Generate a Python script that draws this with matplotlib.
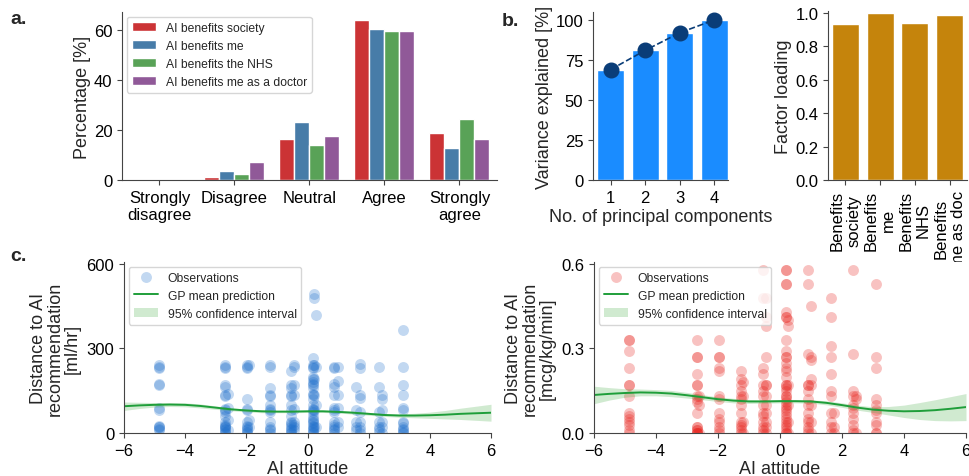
import numpy as np
import matplotlib
matplotlib.use("Agg")
import matplotlib.pyplot as plt
import seaborn as sns

sns.set_style("ticks")
plt.rcParams['font.family'] = ['Liberation Sans', 'DejaVu Sans']
plt.rcParams['axes.edgecolor'] = '#444444'
plt.rcParams['xtick.color'] = '#444444'
plt.rcParams['ytick.color'] = '#444444'
plt.rcParams['xtick.labelcolor'] = 'black'
plt.rcParams['ytick.labelcolor'] = 'black'

# ---------------- data ----------------
likert_cats = ["Strongly\ndisagree", "Disagree", "Neutral", "Agree", "Strongly\nagree"]
series_names = ["AI benefits society", "AI benefits me", "AI benefits the NHS", "AI benefits me as a doctor"]
pct_society = [0, 1.0, 16.3, 64.0, 18.6]
pct_me = [0, 3.5, 23.3, 60.4, 12.6]
pct_nhs = [0, 2.3, 14.0, 59.3, 24.4]
pct_doctor = [0, 7.0, 17.5, 59.3, 16.2]

pcs = [1, 2, 3, 4]
var_explained = [69, 81, 92, 100]

loading_labels = ["Benefits\nsociety", "Benefits\nme", "Benefits\nNHS", "Benefits\nme as doc"]
loadings = [0.93, 1.0, 0.94, 0.985]

gp_x = [-6, -5.5, -5, -4.5, -4, -3.5, -3, -2.5, -2, -1.5, -1, -0.5, 0,
        0.5, 1, 1.5, 2, 2.5, 3, 3.5, 4, 4.5, 5, 5.5, 6]
gp1_mean = [95, 98, 100, 101, 100, 96, 90, 84, 80, 77, 76, 76, 77,
            77, 75, 72, 68, 64, 62, 62, 63, 65, 68, 70, 72]
gp1_half = [15, 11, 8, 7, 7, 7, 6, 5, 5, 5, 4, 4, 4,
            4, 4, 5, 5, 5, 6, 8, 11, 15, 20, 25, 30]
gp2_mean = [.135, .139, .142, .144, .143, .140, .134, .127, .120, .115, .112, .112, .113,
            .113, .112, .107, .099, .090, .083, .079, .077, .078, .081, .086, .092]
gp2_half = [.031, .022, .015, .012, .011, .011, .010, .009, .008, .008, .007, .006, .006,
            .006, .006, .007, .008, .009, .010, .015, .022, .030, .037, .043, .048]

# observations (ml/hr), grouped by attitude column
obs1 = {
    -4.86: [235, 230, 240, 175, 170, 90, 80, 25, 20, 15, 10, 20],
    -2.70: [240, 235, 230, 170, 165, 135, 130, 85, 80, 75, 60, 40, 30, 20, 15, 10, 5, 0, 20, 25],
    -2.60: [140, 90, 45, 10],
    -1.97: [235, 240, 230, 120, 80, 85, 40, 20, 15, 10, 5, 0, 25],
    -1.90: [240, 45, 20],
    -1.21: [240, 235, 160, 135, 130, 100, 80, 85, 75, 40, 20, 15, 10, 0],
    -0.55: [220, 170, 160, 135, 130, 100, 80, 60, 40, 35, 30, 20, 15, 10, 5, 0],
    -0.45: [240, 235, 170, 135, 85, 40, 30, 20, 10],
    0.17: [265, 240, 235, 230, 200, 190, 180, 175, 170, 160, 140, 135, 120, 100, 85, 80, 75,
           60, 45, 40, 35, 20, 15, 10, 5, 0, 25, 50],
    0.20: [495, 480, 240, 190, 135, 80, 20],
    0.27: [420, 235, 100, 20],
    0.88: [235, 230, 175, 165, 135, 90, 80, 75, 40, 30, 20, 15, 10, 0],
    1.00: [235, 185, 135, 90, 40, 20],
    1.60: [165, 80, 40, 20, 10],
    1.72: [245, 230, 135, 125, 75, 40, 20, 10, 0],
    2.33: [235, 165, 75, 40, 20, 15, 5],
    2.45: [135, 120, 80, 40, 20, 0],
    3.12: [365, 235, 170, 135, 90, 80, 40, 35, 20, 15, 10, 5, 0],
}
# observations (mcg/kg/min)
obs2 = {
    -4.87: [0.33, 0.33, 0.29, 0.23, 0.17, 0.17, 0.13, 0.07, 0.06, 0.05, 0.04, 0.03, 0.01, 0.0],
    -2.69: [0.33, 0.27, 0.27, 0.21, 0.17, 0.17, 0.13, 0.12, 0.11, 0.07, 0.02, 0.02, 0.01, 0.01, 0.0, 0.0, 0.0],
    -2.60: [0.13, 0.10, 0.0],
    -1.96: [0.33, 0.27, 0.27, 0.23, 0.22, 0.13, 0.12, 0.07, 0.05, 0.04, 0.02, 0.01, 0.0],
    -1.27: [0.22, 0.19, 0.17, 0.15, 0.13, 0.12, 0.10, 0.07, 0.04, 0.03, 0.02, 0.01, 0.0],
    -1.20: [0.18, 0.13, 0.04, 0.0],
    -0.56: [0.58, 0.48, 0.23, 0.21, 0.17, 0.15, 0.13, 0.10, 0.07, 0.06, 0.04, 0.02, 0.01, 0.0],
    -0.45: [0.48, 0.38, 0.41, 0.27, 0.17, 0.17, 0.13, 0.10, 0.07, 0.04, 0.02, 0.0],
    0.19: [0.58, 0.58, 0.53, 0.53, 0.43, 0.41, 0.41, 0.33, 0.29, 0.27, 0.27, 0.25, 0.23, 0.22, 0.20,
           0.17, 0.17, 0.16, 0.15, 0.13, 0.13, 0.12, 0.11, 0.10, 0.09, 0.08, 0.07, 0.06, 0.05,
           0.04, 0.03, 0.02, 0.01, 0.0, 0.0],
    0.27: [0.38, 0.40, 0.17, 0.10, 0.04, 0.0],
    0.91: [0.58, 0.53, 0.28, 0.17, 0.17, 0.15, 0.12, 0.10, 0.07, 0.05, 0.04, 0.02, 0.01, 0.0],
    1.00: [0.45, 0.27, 0.26, 0.19, 0.17, 0.10, 0.04, 0.0],
    1.66: [0.48, 0.41, 0.31, 0.27, 0.21, 0.15, 0.13, 0.07, 0.04, 0.02, 0.0],
    1.75: [0.07, 0.02, 0.0],
    2.34: [0.58, 0.28, 0.15, 0.13, 0.10, 0.09, 0.07, 0.05, 0.03, 0.01, 0.0],
    2.45: [0.13, 0.12, 0.0],
    3.09: [0.53, 0.27, 0.23, 0.12, 0.10, 0.08, 0.07, 0.04, 0.03, 0.0, 0.0],
}

# ---------------- figure ----------------
W, H = 970, 477
fig = plt.figure(figsize=(W / 100, H / 100), dpi=100)


def ax_px(l, t, r, b):
    return fig.add_axes([l / W, 1 - b / H, (r - l) / W, (b - t) / H])


TICK = 12
LAB = 13

# Panel a
axa = ax_px(122, 13, 497, 181)
set1 = sns.color_palette("Set1", 4)
cols = [sns.desaturate(c, 0.75) for c in set1]
xs = np.arange(len(likert_cats))
w = 0.2
for i, (vals, name) in enumerate(zip([pct_society, pct_me, pct_nhs, pct_doctor], series_names)):
    axa.bar(xs + (i - 1.5) * w, vals, width=w, color=cols[i], label=name)
axa.set_xlim(-0.5, 4.5)
axa.set_ylim(0, 67)
axa.set_yticks([0, 20, 40, 60])
axa.set_xticks(xs)
axa.set_xticklabels(likert_cats)
axa.set_ylabel("Percentage [%]", fontsize=LAB, labelpad=2)
axa.tick_params(labelsize=TICK)
axa.legend(loc="upper left", fontsize=8.7, frameon=True, borderaxespad=0.4)
sns.despine(ax=axa)

# Panel b left
axb = ax_px(593, 13, 728, 181)
axb.bar(pcs, var_explained, width=0.78, color="#1a8cff")
axb.plot(pcs, var_explained, "--o", color="#0a3d78", markersize=10.5, linewidth=1.2)
axb.set_xlim(0.49, 4.4)
axb.set_ylim(0, 105)
axb.set_yticks([0, 25, 50, 75, 100])
axb.set_xticks(pcs)
axb.set_xlabel("No. of principal components", fontsize=LAB, labelpad=2)
axb.set_ylabel("Variance explained [%]", fontsize=LAB, labelpad=2)
axb.tick_params(labelsize=TICK)
sns.despine(ax=axb)

# Panel b right
axf = ax_px(828, 12, 967, 181)
axf.bar(np.arange(4), loadings, width=0.78, color="#c5840c")
axf.set_xlim(-0.5, 3.5)
axf.set_ylim(0, 1.01)
axf.set_yticks([0, 0.2, 0.4, 0.6, 0.8, 1.0])
axf.set_xticks(np.arange(4))
axf.set_xticklabels(loading_labels, rotation=90)
axf.set_ylabel("Factor loading", fontsize=LAB, labelpad=2)
axf.tick_params(labelsize=TICK)
sns.despine(ax=axf)


def scatter_panel(ax, obs, mean, half, color, ylim, yticks, ylabel):
    ox = [x for x, ys in obs.items() for _ in ys]
    oy = [y for ys in obs.values() for y in ys]
    ax.scatter(ox, oy, s=62, color=color, alpha=0.27, linewidths=0, label="Observations")
    m = np.array(mean)
    h = np.array(half)
    ax.plot(gp_x, m, color="#1f9e3a", linewidth=1.4, label="GP mean prediction")
    ax.fill_between(gp_x, m - h, m + h, color="#2ca02c", alpha=0.22, linewidth=0,
                    label="95% confidence interval")
    ax.set_xlim(-6, 6)
    ax.set_ylim(*ylim)
    ax.set_xticks([-6, -4, -2, 0, 2, 4, 6])
    ax.set_xticklabels(["\u22126", "\u22124", "\u22122", "0", "2", "4", "6"])
    ax.set_yticks(yticks)
    ax.set_xlabel("AI attitude", fontsize=LAB, labelpad=2)
    ax.set_ylabel(ylabel, fontsize=LAB, labelpad=4, linespacing=1.0)
    ax.tick_params(labelsize=TICK)
    ax.legend(loc="upper left", fontsize=8.7, frameon=True, borderaxespad=0.4)
    sns.despine(ax=ax)


axc1 = ax_px(124, 263, 491, 434)
scatter_panel(axc1, obs1, gp1_mean, gp1_half, "#1f6fcc", (0, 607), [0, 300, 600],
              "Distance to AI\nrecommendation\n[ml/hr]")
axc2 = ax_px(594, 263, 966, 434)
scatter_panel(axc2, obs2, gp2_mean, gp2_half, "#e8201a", (0, 0.607), [0.0, 0.3, 0.6],
              "Distance to AI\nrecommendation\n[mcg/kg/min]")
axc2.set_yticklabels(["0.0", "0.3", "0.6"])

# panel letters
fig.text(10 / W, 1 - 20 / H, "a.", fontsize=14, fontweight="bold", va="center")
fig.text(502 / W, 1 - 22 / H, "b.", fontsize=14, fontweight="bold", va="center")
fig.text(10 / W, 1 - 257 / H, "c.", fontsize=14, fontweight="bold", va="center")

fig.savefig("out.png", dpi=100)
